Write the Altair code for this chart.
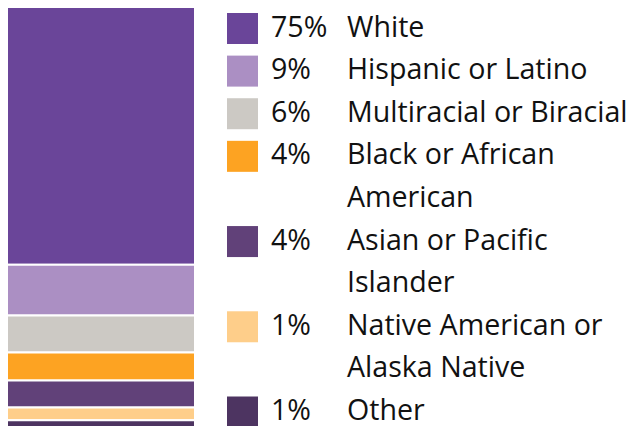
import altair as alt
import pandas as pd

# ---- data ----
categories = [
    "White",
    "Hispanic or Latino",
    "Multiracial or Biracial",
    "Black or African American",
    "Asian or Pacific Islander",
    "Native American or Alaska Native",
    "Other",
]
pct_labels = ["75%", "9%", "6%", "4%", "4%", "1%", "1%"]
label_lines = [
    ["White"],
    ["Hispanic or Latino"],
    ["Multiracial or Biracial"],
    ["Black or African", "American"],
    ["Asian or Pacific", "Islander"],
    ["Native American or", "Alaska Native"],
    ["Other"],
]
# segment heights of the stacked bar as drawn (share of bar length)
bar_share = [60.5, 11.9, 8.7, 6.6, 6.3, 3.0, 2.9]
colors = ["#6A4599", "#AB8FC3", "#CCC9C4", "#FDA322", "#614179", "#FECE8A", "#4D3461"]

FONT = "Open Sans"
FONT_SIZE = 28.6
TEXT_COLOR = "#111111"

# ---- tables ----
bar_df = pd.DataFrame({
    "category": categories,
    "share": bar_share,
    "idx": list(range(len(categories))),
    "group": ["all"] * len(categories),
})

slots = []
s = 0
for lines in label_lines:
    slots.append(s)
    s += len(lines)
n_slots = s - 1

legend_df = pd.DataFrame({"category": categories, "pct": pct_labels, "slot": slots})
line_rows = []
for cat, lines, st in zip(categories, label_lines, slots):
    for i, ln in enumerate(lines):
        line_rows.append({"category": cat, "line": ln, "slot": st + i})
lines_df = pd.DataFrame(line_rows)

color_scale = alt.Scale(domain=categories, range=colors)
y_leg = alt.Y("slot:Q", scale=alt.Scale(domain=[0, n_slots], range=[20.5, 404]), axis=None)

bar = alt.Chart(bar_df).mark_bar(stroke="white", strokeWidth=2).encode(
    x=alt.X("group:N", scale=alt.Scale(range=[-1, 187], paddingInner=0, paddingOuter=0), axis=None),
    y=alt.Y("share:Q", stack="zero", scale=alt.Scale(domain=[0, 100], range=[-1, 425]), axis=None),
    color=alt.Color("category:N", scale=color_scale, legend=None),
    order=alt.Order("idx:Q", sort="ascending"),
)

swatch = alt.Chart(legend_df).mark_square(size=961, opacity=1, filled=True).encode(
    x=alt.value(234.5),
    y=y_leg,
    color=alt.Color("category:N", scale=color_scale, legend=None),
)

pct = alt.Chart(legend_df).mark_text(
    align="left", baseline="middle", font=FONT, fontSize=FONT_SIZE, color=TEXT_COLOR, dy=-1
).encode(x=alt.value(263), y=y_leg, text="pct:N")

lab = alt.Chart(lines_df).mark_text(
    align="left", baseline="middle", font=FONT, fontSize=FONT_SIZE, color=TEXT_COLOR, dy=-1
).encode(x=alt.value(339), y=y_leg, text="line:N")

chart = alt.layer(bar, swatch, pct, lab).resolve_scale(
    x="independent", y="independent"
).properties(
    width=621, height=418, padding=0, autosize=alt.AutoSizeParams(type="none")
).configure_view(stroke=None)

chart.save("out.html", embed_options={"renderer": "svg", "actions": False})
